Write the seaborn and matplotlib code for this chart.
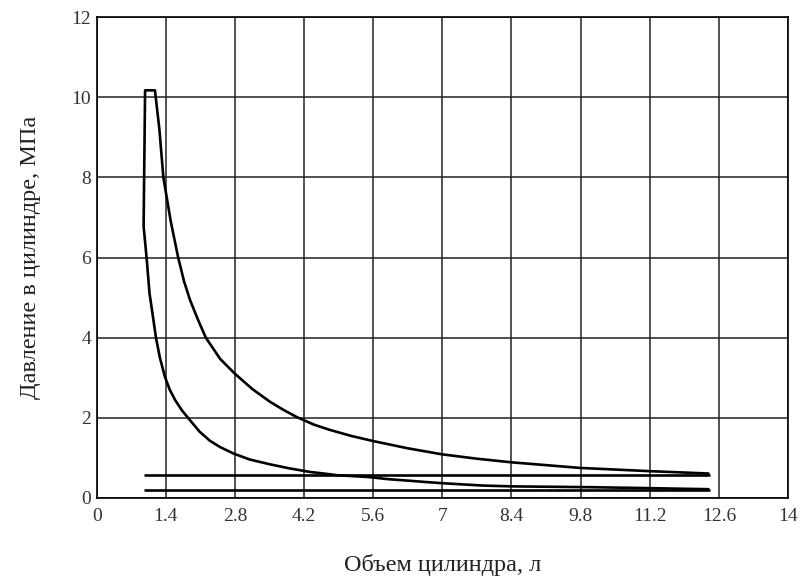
import numpy as np
import pandas as pd
import matplotlib
matplotlib.use("Agg")
import matplotlib.pyplot as plt
import seaborn as sns

# Compression branch (from BDC to the top)
comp_v = [12.39, 11.91, 11.0, 9.99, 9.2, 8.40, 7.83, 7.4, 6.99, 6.65, 6.34, 5.9,
          5.53, 5.2, 4.86, 4.6, 4.32, 3.9, 3.51, 3.1, 2.77, 2.5, 2.29, 2.08,
          1.89, 1.73, 1.59, 1.48, 1.38, 1.28, 1.20, 1.13, 1.09, 1.07, 1.01,
          0.95, 0.98]
comp_p = [0.22, 0.23, 0.25, 0.27, 0.28, 0.29, 0.31, 0.34, 0.37, 0.40, 0.43, 0.47,
          0.52, 0.545, 0.57, 0.61, 0.65, 0.74, 0.84, 0.96, 1.11, 1.27, 1.43, 1.66,
          1.94, 2.18, 2.44, 2.70, 3.03, 3.50, 4.00, 4.60, 4.94, 5.10, 6.00,
          6.78, 10.17]
# Combustion plateau and expansion branch
exp_v = [0.98, 1.18, 1.27, 1.35, 1.5, 1.65, 1.77, 1.89, 2.05, 2.21, 2.5, 2.79, 3.15,
         3.51, 3.78, 4.05, 4.4, 4.72, 5.15, 5.60, 6.3, 6.99, 7.7, 8.40, 9.1,
         9.79, 10.5, 11.19, 11.8, 12.39]
exp_p = [10.17, 10.17, 9.19, 8.00, 6.90, 6.00, 5.40, 4.94, 4.45, 4.00, 3.47, 3.11, 2.72,
         2.40, 2.20, 2.02, 1.83, 1.70, 1.55, 1.42, 1.24, 1.09, 0.98, 0.89, 0.82,
         0.75, 0.71, 0.67, 0.64, 0.61]
# Exhaust and intake lines
exhaust_v = [0.98, 12.39]
exhaust_p = [0.57, 0.57]
intake_v = [0.98, 12.39]
intake_p = [0.21, 0.21]

x_ticks = [0, 1.4, 2.8, 4.2, 5.6, 7, 8.4, 9.8, 11.2, 12.6, 14]
x_tick_labels = ["0", "1.4", "2.8", "4.2", "5.6", "7", "8.4", "9.8", "11.2", "12.6", "14"]
y_ticks = [0, 2, 4, 6, 8, 10, 12]

xlabel = "Объем цилиндра, л"
ylabel = "Давление в цилиндре, МПа"

sns.set_theme(style="white")
plt.rcParams["font.family"] = ["Liberation Serif", "DejaVu Serif"]

cycle = pd.DataFrame({"V": comp_v + exp_v, "p": comp_p + exp_p})
exh = pd.DataFrame({"V": exhaust_v, "p": exhaust_p})
intk = pd.DataFrame({"V": intake_v, "p": intake_p})

fig = plt.figure(figsize=(8.05, 5.79), dpi=100)
ax = fig.add_axes([96.7 / 805, 1 - 498 / 579, (788 - 96.7) / 805, (498 - 17) / 579])

lw = 1.9
sns.lineplot(data=cycle, x="V", y="p", sort=False, estimator=None,
             color="black", linewidth=lw, ax=ax)
sns.lineplot(data=exh, x="V", y="p", sort=False, estimator=None,
             color="black", linewidth=lw, ax=ax)
sns.lineplot(data=intk, x="V", y="p", sort=False, estimator=None,
             color="black", linewidth=lw, ax=ax)

ax.set_xlim(0, 14)
ax.set_ylim(0, 12)
ax.set_xticks(x_ticks)
ax.set_xticklabels(x_tick_labels)
ax.set_yticks(y_ticks)
ax.grid(True, color="#222222", linewidth=1.1)
ax.set_axisbelow(True)
ax.tick_params(axis="both", length=0, labelsize=14, labelcolor="#333333")
ax.tick_params(axis="x", pad=7)
ax.tick_params(axis="y", pad=4)
for s in ax.spines.values():
    s.set_color("black")
    s.set_linewidth(1.2)

ax.set_xlabel(xlabel, fontsize=17.5, color="#222222")
ax.set_ylabel(ylabel, fontsize=17.5, color="#222222")
ax.xaxis.set_label_coords(0.5, -(554 - 498) / (498 - 17), transform=ax.transAxes)
ax.yaxis.set_label_coords(-(96.7 - 41) / (788 - 96.7), 0.5, transform=ax.transAxes)

fig.savefig("out.png", dpi=100)
